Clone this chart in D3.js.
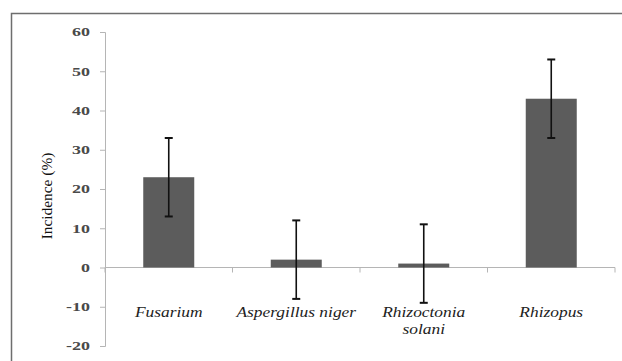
<!DOCTYPE html>
<html>
<head>
<meta charset="utf-8">
<script src="https://cdn.jsdelivr.net/npm/d3@7"></script>
<style>
  body { margin: 0; background: #fff; }
</style>
</head>
<body>
<div class="canvas"></div>
<script>
const dims = {width: 622, height: 361};
const serif = "Liberation Serif";

// data
const fungi = ["Fusarium", "Aspergillus niger", "Rhizoctonia solani", "Rhizopus"];
const fungiLines = [["Fusarium"], ["Aspergillus niger"], ["Rhizoctonia", "solani"], ["Rhizopus"]];
const incidence = [23, 2, 1, 43];
const errors = [10, 10, 10, 10];
const yTicks = [-20, -10, 0, 10, 20, 30, 40, 50, 60];

const svg = d3.select(".canvas").append("svg")
    .attr("width", dims.width)
    .attr("height", dims.height);

// outer frame (only top + left fall inside the picture)
svg.append("rect")
    .attr("x", 11.5).attr("y", 13.5)
    .attr("width", dims.width + 20).attr("height", dims.height + 20)
    .attr("fill", "none")
    .attr("stroke", "#6e6e6e")
    .attr("stroke-width", 1.5);

const y = d3.scaleLinear()
    .domain([-20, 60])
    .range([346, 32]);

const x = d3.scaleBand()
    .domain(fungi)
    .range([105, 615])
    .paddingInner(0.6)
    .paddingOuter(0.3);

const graph = svg.append("g");

// y axis - labels are stretched wide in the original
const yAxis = graph.append("g")
    .attr("transform", "translate(105,0)")
    .call(d3.axisLeft(y).tickValues(yTicks).tickSize(5).tickFormat(d => String(d)));
yAxis.select(".domain").attr("stroke", "#b5b5b5");
yAxis.selectAll(".tick line").attr("stroke", "#b5b5b5");
yAxis.selectAll(".tick text")
    .attr("x", 0)
    .attr("transform", "translate(-15,0) scale(1.5,1)")
    .attr("fill", "#4a4a4a")
    .attr("font-family", serif)
    .attr("font-size", 12)
    .attr("font-weight", "bold");

// x axis line at zero with category dividers
const step = x.step();
const edges = d3.range(fungi.length + 1).map(i => 105 + i * step);
graph.append("line")
    .attr("x1", 105).attr("x2", 615)
    .attr("y1", y(0)).attr("y2", y(0))
    .attr("stroke", "#b5b5b5").attr("stroke-width", 1.2);
graph.selectAll(".xtick")
    .data(edges)
    .enter().append("line")
    .attr("class", "xtick")
    .attr("x1", d => d).attr("x2", d => d)
    .attr("y1", y(0)).attr("y2", y(0) + 5)
    .attr("stroke", "#b5b5b5");

// bars
graph.selectAll(".bar")
    .data(incidence)
    .enter().append("rect")
    .attr("class", "bar")
    .attr("x", (d, i) => x(fungi[i]))
    .attr("width", x.bandwidth())
    .attr("y", d => y(Math.max(d, 0)))
    .attr("height", d => Math.abs(y(d) - y(0)))
    .attr("fill", "#5c5c5c");

// error bars
const eb = graph.selectAll(".err")
    .data(incidence)
    .enter().append("g")
    .attr("class", "err")
    .attr("transform", (d, i) => `translate(${x(fungi[i]) + x.bandwidth() / 2},0)`);
eb.append("line")
    .attr("y1", (d, i) => y(d - errors[i]))
    .attr("y2", (d, i) => y(d + errors[i]))
    .attr("stroke", "#111").attr("stroke-width", 1.6);
eb.append("line")
    .attr("x1", -4).attr("x2", 4)
    .attr("y1", (d, i) => y(d + errors[i])).attr("y2", (d, i) => y(d + errors[i]))
    .attr("stroke", "#111").attr("stroke-width", 2);
eb.append("line")
    .attr("x1", -4).attr("x2", 4)
    .attr("y1", (d, i) => y(d - errors[i])).attr("y2", (d, i) => y(d - errors[i]))
    .attr("stroke", "#111").attr("stroke-width", 2);

// category labels
const labels = graph.selectAll(".cat")
    .data(fungiLines)
    .enter().append("text")
    .attr("class", "cat")
    .attr("text-anchor", "middle")
    .attr("font-family", serif)
    .attr("font-size", 15)
    .attr("font-style", "italic")
    .attr("fill", "#222")
    .attr("transform", (d, i) => `translate(${x(fungi[i]) + x.bandwidth() / 2},${y(0) + 49}) scale(1.16,1)`);
labels.selectAll("tspan")
    .data(d => d)
    .enter().append("tspan")
    .attr("x", 0)
    .attr("dy", (d, i) => i === 0 ? 0 : 18)
    .text(d => d);

// y label
svg.append("text")
    .attr("transform", "translate(52,196) rotate(-90) scale(1.1,1)")
    .attr("text-anchor", "middle")
    .attr("font-family", serif)
    .attr("font-size", 14)
    .attr("fill", "#111")
    .text("Incidence (%)");
</script>
</body>
</html>
